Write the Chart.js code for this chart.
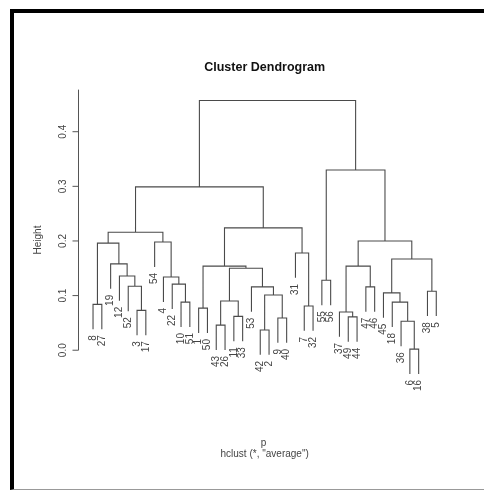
<!DOCTYPE html>
<html>
<head>
<meta charset="utf-8">
<script src="https://cdn.jsdelivr.net/npm/chart.js@4"></script>
<style>
html,body{margin:0;padding:0;background:#fff;}
#wrap{position:relative;width:484px;height:491px;overflow:hidden;}
#frame{position:absolute;left:10px;top:9px;width:500px;height:481px;box-sizing:border-box;border-top:4px solid #000;border-left:4px solid #000;border-bottom:1px solid #999;}
canvas{position:absolute;left:0;top:0;}
</style>
</head>
<body>
<div id="wrap"><div id="frame"></div><canvas id="dend" width="484" height="491"></canvas></div>
<script>
// feuilles, dans l'ordre d'affichage
const leafLabels = [8,27,19,12,52,3,17,54,4,22,10,51,1,50,43,26,11,33,53,42,2,9,40,31,7,32,55,56,37,49,44,47,46,45,18,36,6,16,38,5];

// fusions façon hclust : négatif = feuille (étiquette), positif = n° de fusion
const merges = [
  [-6,-16], [-42,-2], [-43,-26], [-36,1], [-9,-40], [-49,-44], [-11,-33], [-37,6],
  [-3,-17], [-1,-50], [-7,-32], [-8,-27], [-10,-51], [-18,4], [3,7], [2,5],
  [-45,14], [-38,-5], [-47,-46], [-53,16], [-52,9], [-22,13], [-55,-56], [-4,22],
  [-12,21], [15,20], [10,26], [8,19], [-19,25], [17,18], [-31,11], [12,29],
  [-54,24], [28,30], [32,33], [27,31], [35,36], [23,34], [37,38]
];
const heights = [
  0.002, 0.037, 0.046, 0.053, 0.059, 0.061, 0.062, 0.070,
  0.073, 0.077, 0.081, 0.084, 0.088, 0.088, 0.090, 0.101,
  0.105, 0.108, 0.116, 0.116, 0.117, 0.121, 0.128, 0.134,
  0.136, 0.150, 0.154, 0.154, 0.158, 0.167, 0.178, 0.196,
  0.198, 0.200, 0.216, 0.224, 0.299, 0.330, 0.457
];
const yTicks = [0, 0.1, 0.2, 0.3, 0.4];
const axisTop = 0.477;

// construction des segments
const hang = 0.1 * (Math.max(...heights) - Math.min(...heights));
const leafX = {};
leafLabels.forEach((l, i) => leafX[l] = i + 1);
const nodeX = [], pts = [], leafEnds = [];
merges.forEach(([a, b], i) => {
  const h = heights[i];
  const xs = [a, b].map(c => c < 0 ? leafX[-c] : nodeX[c - 1]);
  const ys = [a, b].map(c => c < 0 ? h - hang : heights[c - 1]);
  [a, b].forEach((c, k) => { if (c < 0) leafEnds.push({ label: -c, x: xs[k], y: h - hang }); });
  nodeX[i] = (xs[0] + xs[1]) / 2;
  pts.push({x: xs[0], y: ys[0]}, {x: xs[0], y: h}, {x: xs[1], y: h}, {x: xs[1], y: ys[1]}, {x: xs[1], y: null});
});

const FONT = '"Liberation Sans", Arial, sans-serif';
function vText(ctx, txt, px, py, align) {
  ctx.save();
  ctx.translate(px, py);
  ctx.rotate(-Math.PI / 2);
  ctx.textAlign = align;
  ctx.textBaseline = 'middle';
  ctx.fillText(txt, 0, 0);
  ctx.restore();
}

const rPlot = {
  id: 'rPlot',
  afterDraw(chart) {
    const {ctx, scales: {x, y}, chartArea: ca} = chart;
    ctx.save();
    ctx.fillStyle = '#444';
    ctx.font = '10px ' + FONT;
    leafEnds.forEach(e => vText(ctx, String(e.label), x.getPixelForValue(e.x), y.getPixelForValue(e.y) + 6, 'right'));

    // axe vertical
    ctx.strokeStyle = '#555';
    ctx.lineWidth = 1;
    const ax = Math.round(ca.left) - 0.5;
    ctx.beginPath();
    ctx.moveTo(ax, y.getPixelForValue(0));
    ctx.lineTo(ax, y.getPixelForValue(axisTop));
    yTicks.forEach(t => {
      const py = y.getPixelForValue(t);
      ctx.moveTo(ax, py);
      ctx.lineTo(ax - 6, py);
    });
    ctx.stroke();
    ctx.font = '10px ' + FONT;
    yTicks.forEach(t => vText(ctx, t.toFixed(1), ax - 15, y.getPixelForValue(t), 'center'));
    vText(ctx, 'Height', 38, 240, 'center');

    const cx = (ca.left + ca.right) / 2;
    ctx.textAlign = 'center';
    ctx.textBaseline = 'middle';
    ctx.fillStyle = '#111';
    ctx.font = 'bold 12.5px ' + FONT;
    ctx.fillText('Cluster Dendrogram', cx, 68);
    ctx.fillStyle = '#444';
    ctx.font = '10px ' + FONT;
    ctx.fillText('p', cx - 1, 443);
    ctx.fillText('hclust (*, "average")', cx, 454);
    ctx.restore();
  }
};

new Chart(document.getElementById('dend'), {
  type: 'scatter',
  data: {
    datasets: [{
      data: pts,
      showLine: true,
      spanGaps: false,
      pointRadius: 0,
      borderColor: '#4a4a4a',
      borderWidth: 1.1
    }]
  },
  options: {
    responsive: false,
    animation: false,
    layout: { padding: { left: 79.3, right: 34, top: 88, bottom: 108 } },
    scales: {
      x: { type: 'linear', min: -0.56, max: 41.56, display: false },
      y: { type: 'linear', min: -0.06, max: 0.48, display: false }
    },
    plugins: { legend: { display: false }, tooltip: { enabled: false } }
  },
  plugins: [rPlot]
});
</script>
</body>
</html>
